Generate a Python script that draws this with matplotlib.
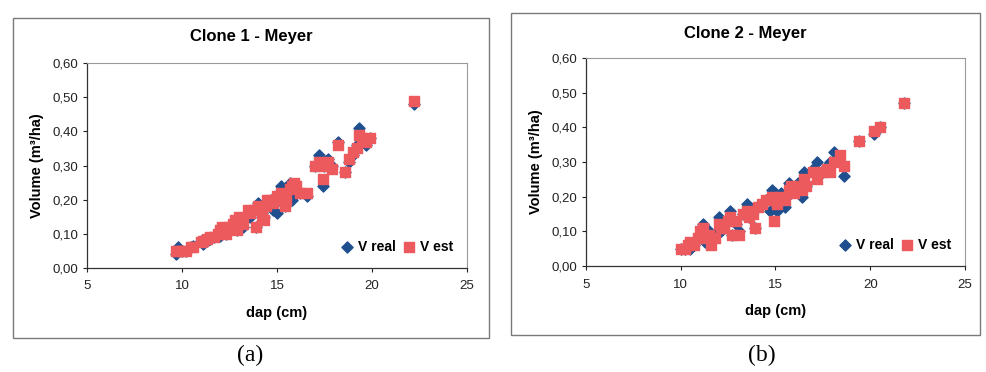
import numpy as np
import matplotlib.pyplot as plt
from matplotlib.patches import Rectangle
from matplotlib.ticker import FuncFormatter

# Clone 1 - Meyer
dap1 = [9.7, 9.8, 10.0, 10.2, 10.5, 10.6, 11.0, 11.1, 11.3, 11.5, 11.7, 11.9,
        12.0, 12.1, 12.3, 12.5, 12.7, 12.8, 12.9, 13.0, 13.2, 13.5, 13.6, 13.8,
        13.9, 14.0, 14.2, 14.3, 14.4, 14.5, 14.7, 14.8, 15.0, 15.1, 15.2, 15.4,
        15.5, 15.7, 15.8, 15.9, 16.0, 16.2, 16.6, 17.0, 17.2, 17.4, 17.5, 17.7,
        17.9, 18.2, 18.6, 18.8, 19.0, 19.2, 19.3, 19.5, 19.7, 19.9, 22.2]
vreal1 = [0.04, 0.06, 0.05, 0.05, 0.06, 0.065, 0.08, 0.07, 0.08, 0.085, 0.09, 0.10,
          0.095, 0.11, 0.10, 0.11, 0.12, 0.13, 0.11, 0.14, 0.12, 0.15, 0.15, 0.17,
          0.12, 0.19, 0.16, 0.15, 0.18, 0.19, 0.20, 0.17, 0.16, 0.22, 0.24, 0.18,
          0.21, 0.25, 0.20, 0.22, 0.23, 0.22, 0.21, 0.30, 0.33, 0.24, 0.30, 0.32,
          0.30, 0.37, 0.28, 0.31, 0.33, 0.36, 0.41, 0.38, 0.36, 0.38, 0.48]
vest1 = [0.05, 0.05, 0.05, 0.05, 0.06, 0.06, 0.075, 0.08, 0.085, 0.09, 0.09, 0.10,
         0.11, 0.12, 0.10, 0.12, 0.13, 0.14, 0.11, 0.15, 0.13, 0.17, 0.16, 0.17,
         0.12, 0.18, 0.15, 0.14, 0.18, 0.20, 0.20, 0.19, 0.21, 0.20, 0.22, 0.18,
         0.20, 0.23, 0.24, 0.25, 0.24, 0.22, 0.22, 0.30, 0.31, 0.26, 0.30, 0.31,
         0.29, 0.36, 0.28, 0.32, 0.34, 0.35, 0.39, 0.38, 0.37, 0.38, 0.49]

# Clone 2 - Meyer
dap2 = [10.0, 10.2, 10.4, 10.5, 10.7, 10.9, 11.0, 11.2, 11.3, 11.5, 11.6, 11.8,
        12.0, 12.1, 12.3, 12.5, 12.6, 12.7, 12.9, 13.1, 13.3, 13.5, 13.6, 13.8,
        13.9, 14.1, 14.3, 14.5, 14.7, 14.8, 14.9, 15.0, 15.1, 15.3, 15.5, 15.7,
        15.8, 16.0, 16.2, 16.4, 16.5, 16.6, 17.0, 17.2, 17.5, 17.7, 17.9, 18.1,
        18.4, 18.6, 19.4, 20.2, 20.5, 21.8]
vreal2 = [0.05, 0.05, 0.06, 0.05, 0.06, 0.08, 0.09, 0.12, 0.07, 0.10, 0.07, 0.09,
          0.14, 0.10, 0.12, 0.13, 0.16, 0.09, 0.12, 0.10, 0.15, 0.18, 0.14, 0.16,
          0.11, 0.17, 0.18, 0.19, 0.16, 0.22, 0.20, 0.21, 0.16, 0.21, 0.17, 0.24,
          0.21, 0.22, 0.24, 0.20, 0.27, 0.23, 0.28, 0.30, 0.27, 0.29, 0.30, 0.33,
          0.30, 0.26, 0.36, 0.38, 0.40, 0.47]
vest2 = [0.05, 0.05, 0.06, 0.07, 0.06, 0.08, 0.10, 0.11, 0.08, 0.09, 0.06, 0.08,
         0.12, 0.11, 0.11, 0.13, 0.14, 0.09, 0.13, 0.09, 0.15, 0.16, 0.14, 0.15,
         0.11, 0.17, 0.18, 0.19, 0.19, 0.20, 0.13, 0.19, 0.18, 0.20, 0.19, 0.22,
         0.23, 0.21, 0.23, 0.22, 0.25, 0.23, 0.27, 0.25, 0.27, 0.28, 0.27, 0.30,
         0.32, 0.29, 0.36, 0.39, 0.40, 0.47]

azul = '#1f4f8f'
vermelho = '#ec5a5e'

plt.rcParams['font.family'] = ['Liberation Sans', 'DejaVu Sans']

fig = plt.figure(figsize=(9.86, 3.72), dpi=100)


def virgula(v, pos):
    return f'{v:.2f}'.replace('.', ',')


def painel(pos, caixa, dap, vreal, vest, titulo, ytitulo, letra, xletra):
    # moldura do grafico (estilo Excel)
    fig.patches.append(Rectangle(caixa[:2], caixa[2], caixa[3], transform=fig.transFigure,
                                 fill=False, edgecolor='#7a7a7a', linewidth=1.0))
    ax = fig.add_axes(pos)
    ax.scatter(dap, vreal, marker='D', s=32, color=azul, label='V real', zorder=3)
    ax.scatter(dap, vest, marker='s', s=44, color=vermelho, label='V est', zorder=4)
    ax.set_xlim(5, 25)
    ax.set_ylim(0, 0.6)
    ax.set_xticks(np.arange(5, 26, 5))
    ax.set_yticks(np.arange(0, 0.61, 0.1))
    ax.yaxis.set_major_formatter(FuncFormatter(virgula))
    ax.tick_params(direction='out', length=3, width=0.8, labelsize=9.5, colors='#222222')
    ax.tick_params(axis='x', pad=6)
    for lado in ['top', 'right']:
        ax.spines[lado].set_color('#9a9a9a')
        ax.spines[lado].set_linewidth(0.8)
    for lado in ['left', 'bottom']:
        ax.spines[lado].set_color('#333333')
        ax.spines[lado].set_linewidth(0.9)
    fig.text(caixa[0] + caixa[2] / 2, ytitulo, titulo, ha='center', va='center',
             fontsize=12, fontweight='bold')
    ax.set_xlabel('dap (cm)', fontsize=10.5, fontweight='bold', labelpad=10)
    ax.set_ylabel('Volume (m³/ha)', fontsize=10.5, fontweight='bold', labelpad=6)
    ax.legend(loc='lower right', ncol=2, frameon=False,
              prop={'size': 10, 'weight': 'bold'}, handlelength=0.8,
              handletextpad=0.35, columnspacing=0.6, borderaxespad=0.6)
    fig.text(xletra, 0.045, letra, ha='center', va='center', fontsize=17,
             family='Liberation Serif')
    return ax


painel([0.0882, 0.2796, 0.3854, 0.551], (0.0132, 0.0914, 0.4828, 0.860),
       dap1, vreal1, vest1, 'Clone 1 - Meyer', 0.903, '(a)', 0.254)
painel([0.5943, 0.2849, 0.3844, 0.559], (0.518, 0.0995, 0.4757, 0.8656),
       dap2, vreal2, vest2, 'Clone 2 - Meyer', 0.911, '(b)', 0.773)

fig.savefig('out.png', dpi=100)
